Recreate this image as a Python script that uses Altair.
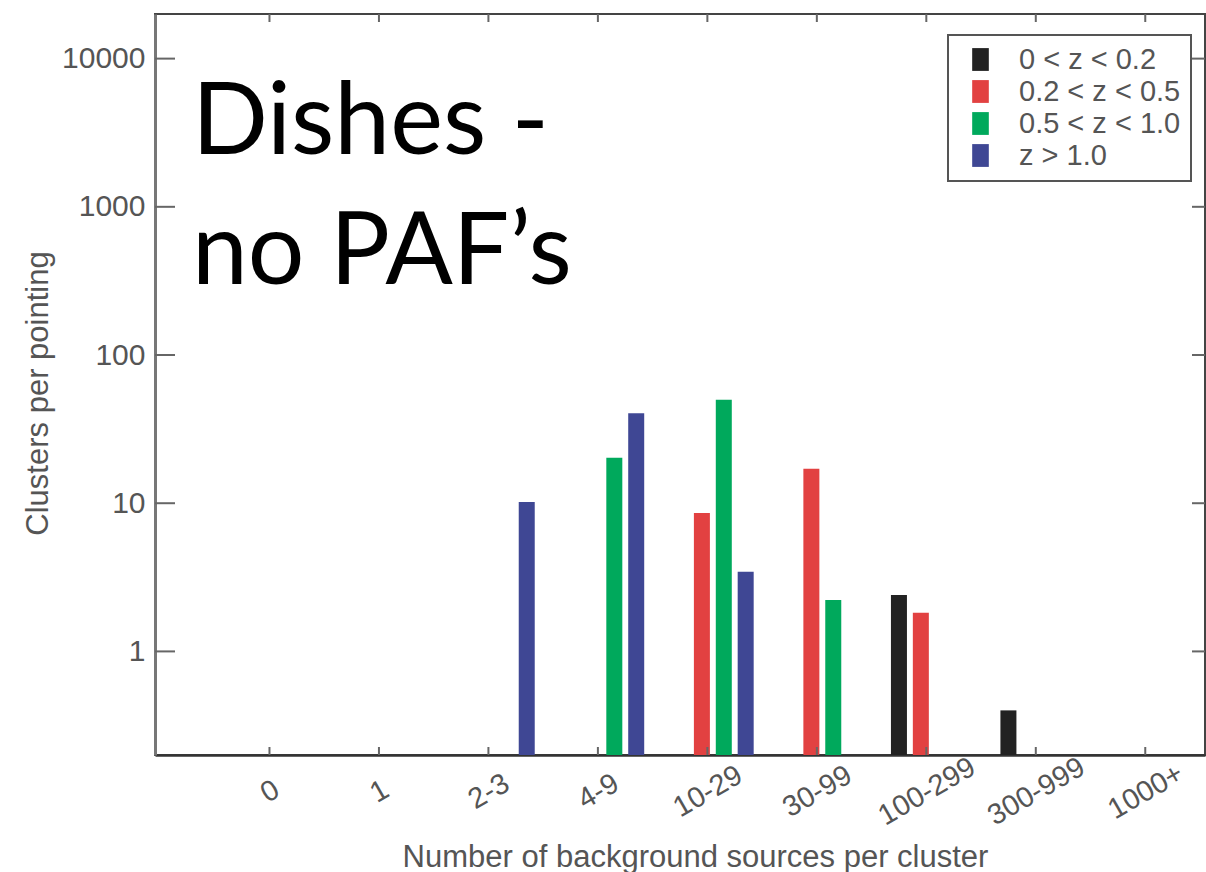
import json
import pandas as pd
import altair as alt

# ---- data ----
categories = ["0", "1", "2-3", "4-9", "10-29", "30-99", "100-299", "300-999", "1000+"]
series_names = ["0 < z < 0.2", "0.2 < z < 0.5", "0.5 < z < 1.0", "z > 1.0"]
series_colors = ["#222222", "#e24141", "#00a95c", "#3f4794"]
z_00_02 = [None, None, None, None, None, None, 2.4, 0.40, None]
z_02_05 = [None, None, None, None, 8.6, 17.1, 1.82, None, None]
z_05_10 = [None, None, None, 20.3, 50.0, 2.22, None, None, None]
z_gt_10 = [None, None, 10.2, 40.5, 3.45, None, None, None, None]
y_ticks = [1, 10, 100, 1000, 10000]
big_text = ["Dishes -", "no PAF\u2019s"]

rows = []
for s, (name, vals) in enumerate(zip(series_names, [z_00_02, z_02_05, z_05_10, z_gt_10])):
    for i, v in enumerate(vals):
        if v is not None:
            rows.append({"series": name, "cat": categories[i], "idx": i, "s": s, "value": v})
df = pd.DataFrame(rows)
df_yt = pd.DataFrame({"value": y_ticks})
df_xt = pd.DataFrame({"pos": list(range(len(categories)))})

W, H = 1050, 741
FONT = "Liberation Sans"
GREY = "#555555"

x_scale = alt.Scale(domain=[-1, 8.5], nice=False, zero=False)
y_scale = alt.Scale(type="log", domain=[0.2, 20000], nice=False)

label_expr = json.dumps(categories) + "[datum.value]"

x_axis = alt.Axis(
    values=list(range(len(categories))),
    labelExpr=label_expr,
    labelAngle=-30,
    labelAlign="center",
    labelBaseline="middle",
    labelPadding=36,
    ticks=False,
    tickSize=0,
    grid=False,
    labelOverlap=False,
    labelFlush=False,
    labelFontSize=29,
    labelFont=FONT,
    labelColor=GREY,
    domainColor="#333333",
    domainWidth=2.5,
    title="Number of background sources per cluster",
    titleFont=FONT,
    titleFontSize=31,
    titleFontWeight="normal",
    titleColor=GREY,
    titleX=540,
    titleY=111,
    titleAlign="center",
    titleBaseline="alphabetic",
)
y_axis = alt.Axis(
    values=y_ticks,
    format="d",
    ticks=False,
    tickSize=0,
    grid=False,
    labelPadding=10,
    labelFontSize=30,
    labelFont=FONT,
    labelColor=GREY,
    domainColor="#777777",
    domainWidth=3,
    title="Clusters per pointing",
    titleFont=FONT,
    titleFontSize=31,
    titleFontWeight="normal",
    titleColor=GREY,
    titleAngle=270,
    titleX=-117,
    titleY=379,
    titleAlign="center",
    titleBaseline="middle",
)

bars = (
    alt.Chart(df)
    .transform_calculate(pos="datum.idx + (datum.s - 1.5) * 0.2 + 0.05")
    .mark_bar(size=16)
    .encode(
        x=alt.X("pos:Q", scale=x_scale, axis=x_axis),
        y=alt.Y("value:Q", scale=y_scale, axis=y_axis),
        y2=alt.datum(0.2),
        color=alt.Color(
            "series:N",
            scale=alt.Scale(domain=series_names, range=series_colors),
            legend=alt.Legend(
                title=None,
                orient="none",
                legendX=793,
                legendY=21,
                symbolType="M-0.73,-1H0.73V1H-0.73Z",
                symbolSize=520,
                symbolStrokeWidth=0,
                labelFontSize=29,
                labelFont=FONT,
                labelColor=GREY,
                labelLimit=400,
                labelOffset=24,
                symbolOffset=8,
                padding=10,
                rowPadding=2,
                strokeColor=GREY,
                fillColor="white",
            ),
        ),
    )
)

left_ticks = alt.Chart(df_yt).mark_rule(color="#666666", strokeWidth=2).encode(
    y=alt.Y("value:Q", scale=y_scale, axis=y_axis), x=alt.value(0), x2=alt.value(20)
)
right_ticks = alt.Chart(df_yt).mark_rule(color="#666666", strokeWidth=2).encode(
    y=alt.Y("value:Q", scale=y_scale, axis=y_axis), x=alt.value(W - 13), x2=alt.value(W)
)
bottom_ticks = alt.Chart(df_xt).mark_rule(color="#666666", strokeWidth=2).encode(
    x=alt.X("pos:Q", scale=x_scale, axis=x_axis), y=alt.value(H), y2=alt.value(H - 8)
)
top_ticks = alt.Chart(df_xt).mark_rule(color="#666666", strokeWidth=2).encode(
    x=alt.X("pos:Q", scale=x_scale, axis=x_axis), y=alt.value(0), y2=alt.value(8)
)

label = alt.Chart(pd.DataFrame({"a": [0]})).mark_text(
    text=big_text,
    font="Lato",
    fontSize=100,
    color="black",
    align="left",
    baseline="alphabetic",
    lineHeight=130,
).encode(x=alt.value(37), y=alt.value(140))

chart = (
    alt.layer(bars, left_ticks, right_ticks, bottom_ticks, top_ticks, label)
    .properties(
        width=W,
        height=H,
        autosize=alt.AutoSizeParams(type="none"),
        padding={"left": 155, "top": 14, "right": 1, "bottom": 117},
        background="white",
    )
    .configure_view(stroke="#444444", strokeWidth=2)
    .configure_legend(strokeWidth=2)
)

chart.save("out.html", embed_options={"renderer": "svg", "actions": False})
